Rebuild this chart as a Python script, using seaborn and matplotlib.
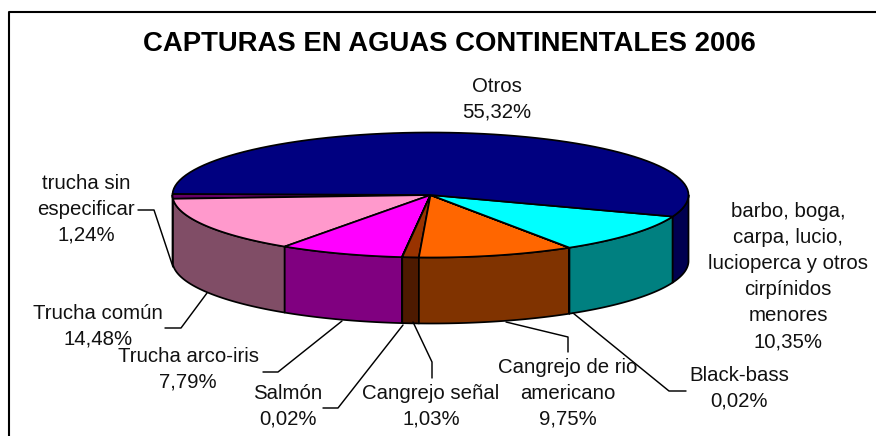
import numpy as np
import seaborn as sns
import matplotlib
matplotlib.use('Agg')
import matplotlib.pyplot as plt

# counter clockwise starting from the left edge of the pie
names = ['trucha sin\nespecificar', 'Trucha común', 'Trucha arco-iris', 'Salmón', 'Cangrejo señal',
         'Cangrejo de rio\namericano', 'Black-bass',
         'barbo, boga,\ncarpa, lucio,\nlucioperca y otros\ncirpínidos\nmenores', 'Otros']
values = [1.24, 14.48, 7.79, 0.02, 1.03, 9.75, 0.02, 10.35, 55.32]
top_colors = ['#660066', '#FF99CC', '#FF00FF', '#FF8080', '#993300', '#FF6600', '#00CCFF', '#00FFFF', '#000080']
side_colors = ['#330033', '#804D66', '#800080', '#804040', '#4D1A00', '#803300', '#006680', '#008080', '#000050']

# centre x, first line y, for each label
label_pos = [(86, 183), (98, 313), (188, 356), (288, 393), (431, 393), (568, 367), (739, 375), (788, 211), (497, 86)]
leaders = [[(138, 210), (154, 210), (173, 267)],
           [(165, 328), (181, 328), (207, 293)],
           [(263, 372), (278, 372), (342, 321)],
           [(323, 408), (338, 408), (403, 325)],
           [(432, 378), (432, 362), (413, 322)],
           [(568, 352), (568, 337), (506, 322)],
           [(686, 391), (669, 391), (573, 313)]]

cx, cy, rx, ry, depth = 430.5, 195, 258, 62.5, 66
start = 179

sns.set_theme(style='white')
plt.rcParams['font.family'] = ['Liberation Sans', 'DejaVu Sans']

fig = plt.figure(figsize=(8.76, 4.36), dpi=100)
ax = fig.add_axes([0, 0, 1, 1])
ax.set_xlim(0, 876)
ax.set_ylim(436, 0)
ax.axis('off')


def rim(a, b):
    t = np.radians(np.linspace(a, b, 80))
    # y axis is flipped, so 180->360 is the front of the pie
    return cx + rx * np.cos(t), cy - ry * np.sin(t)


# frame, only left and top are inside the picture
ax.plot([9, 9, 876], [436, 12, 12], color='black', lw=1.5)

angles = start + np.cumsum([0] + values) * 3.6
for i in range(len(values)):
    a, b = angles[i], angles[i + 1]
    # side wall, only the front half shows
    s0, s1 = max(a, 180), min(b, 360)
    if s1 > s0:
        x, y = rim(s0, s1)
        ax.fill(np.r_[x, x[::-1]], np.r_[y, y[::-1] + depth], facecolor=side_colors[i],
                edgecolor='black', lw=1.25, joinstyle='round')

for i in range(len(values)):
    x, y = rim(angles[i], angles[i + 1])
    ax.fill(np.r_[cx, x], np.r_[cy, y], facecolor=top_colors[i], edgecolor='black', lw=1.25, joinstyle='round')

for pts in leaders:
    ax.plot([p[0] for p in pts], [p[1] for p in pts], color='black', lw=1.05)

for name, val, pos in zip(names, values, label_pos):
    lines = name.split('\n') + [f'{val:.2f}%'.replace('.', ',')]
    for j, line in enumerate(lines):
        ax.text(pos[0], pos[1] + j * 26.2, line, ha='center', va='center', fontsize=14.7, color='#111111')

ax.text(449, 44, 'CAPTURAS EN AGUAS CONTINENTALES 2006', ha='center', va='center',
        fontsize=19.8, fontweight='bold', color='black')

fig.savefig('out.png', dpi=100)
